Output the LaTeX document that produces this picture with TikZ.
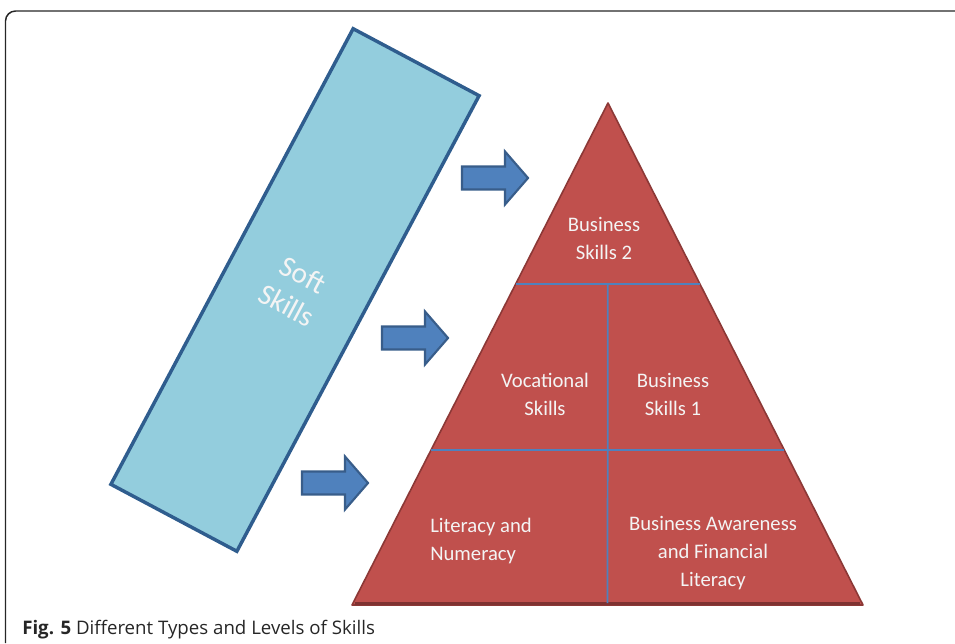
\documentclass[tikz,border=0pt]{standalone}
\usepackage{fontspec}
\setmainfont{Carlito}
\newfontfamily\capfont{Open Sans}
\usetikzlibrary{calc}
\definecolor{softfill}{HTML}{93CDDD}
\definecolor{softline}{HTML}{2F5D8E}
\definecolor{arrfill}{HTML}{4F81BD}
\definecolor{arrline}{HTML}{385D8A}
\definecolor{trifill}{HTML}{C0504D}
\definecolor{triline}{HTML}{8C3836}
\definecolor{divline}{HTML}{4F81BD}
\definecolor{lbl}{HTML}{F4F4F4}
\tikzset{
  softbox/.style={rectangle, draw=softline, fill=softfill, line width=2.6pt,
    minimum width=107pt, minimum height=387pt, rotate=-28,
    text=lbl, font=\fontsize{22}{26}\selectfont, align=center},
  blockarrow/.style={draw=arrline, fill=arrfill, line width=1.6pt, line join=miter},
  pyramid/.style={fill=trifill, draw=triline, line width=1.2pt, line join=round},
  divider/.style={draw=divline, line width=1.3pt},
  lvl/.style={text=lbl, font=\fontsize{15.5}{21}\selectfont, inner sep=0pt},
}
\begin{document}
\begin{tikzpicture}[x=0.75pt,y=-0.75pt]
\useasboundingbox (0,0) rectangle (955,643);
% frame
\draw[line width=1.1pt, black!85] (5.5,643) -- (5.5,21) arc[start angle=180,end angle=270,radius=10] -- (955,11);
% soft skills box
\node[softbox] (soft) at (295,290) {Soft\\Skills};
% pyramid
\coordinate (apex) at (608,103);
\coordinate (bl) at (352,605);
\coordinate (br) at (863,605);
\draw[pyramid] (apex) -- (br) -- (bl) -- cycle;
\draw[triline!90!black, line width=2.4pt] ($(bl)+(3,-1.5)$) -- ($(br)+(-3,-1.5)$);
% dividers
\coordinate (l1a) at ($(apex)!0.3606!(bl)$);
\coordinate (l1b) at ($(apex)!0.3606!(br)$);
\coordinate (l2a) at ($(apex)!0.6912!(bl)$);
\coordinate (l2b) at ($(apex)!0.6912!(br)$);
\coordinate (v1) at ($(l1a)!0.5!(l1b)$);
\coordinate (v2) at ($(bl)!0.5!(br)+(0,-2)$);
\draw[divider] (l1a) -- (l1b);
\draw[divider] (l2a) -- (l2b);
\draw[divider] (v1) -- (v2);
% arrows
\coordinate (a1) at (462,178);
\coordinate (a2) at (382,338);
\coordinate (a3) at (302,483);
\foreach \a in {a1,a2,a3}{
  \draw[blockarrow] (\a) ++(0,-11.5) -- ++(43,0) -- ++(0,-15) -- ++(23,26.5) -- ++(-23,26.5) -- ++(0,-15) -- ++(-43,0) -- cycle;
}
% labels
\node[lvl, align=center] (b2) at (604,238) {Business\\Skills 2};
\node[lvl, align=center] (voc) at (545,394) {Vocational\\Skills};
\node[lvl, align=center] (b1) at (673,394) {Business\\Skills 1};
\node[lvl, align=left, anchor=west] (lit) at (430,541) {Literacy and\\Numeracy};
\node[lvl, align=center] (baw) at (713,553) {Business Awareness\\and Financial\\Literacy};
% caption
\node[anchor=base west, inner sep=0pt, font=\capfont\fontsize{14}{16}\selectfont, text=black!85] (cap) at (22,634) {\textbf{Fig. 5} Different Types and Levels of Skills};
\end{tikzpicture}
\end{document}
